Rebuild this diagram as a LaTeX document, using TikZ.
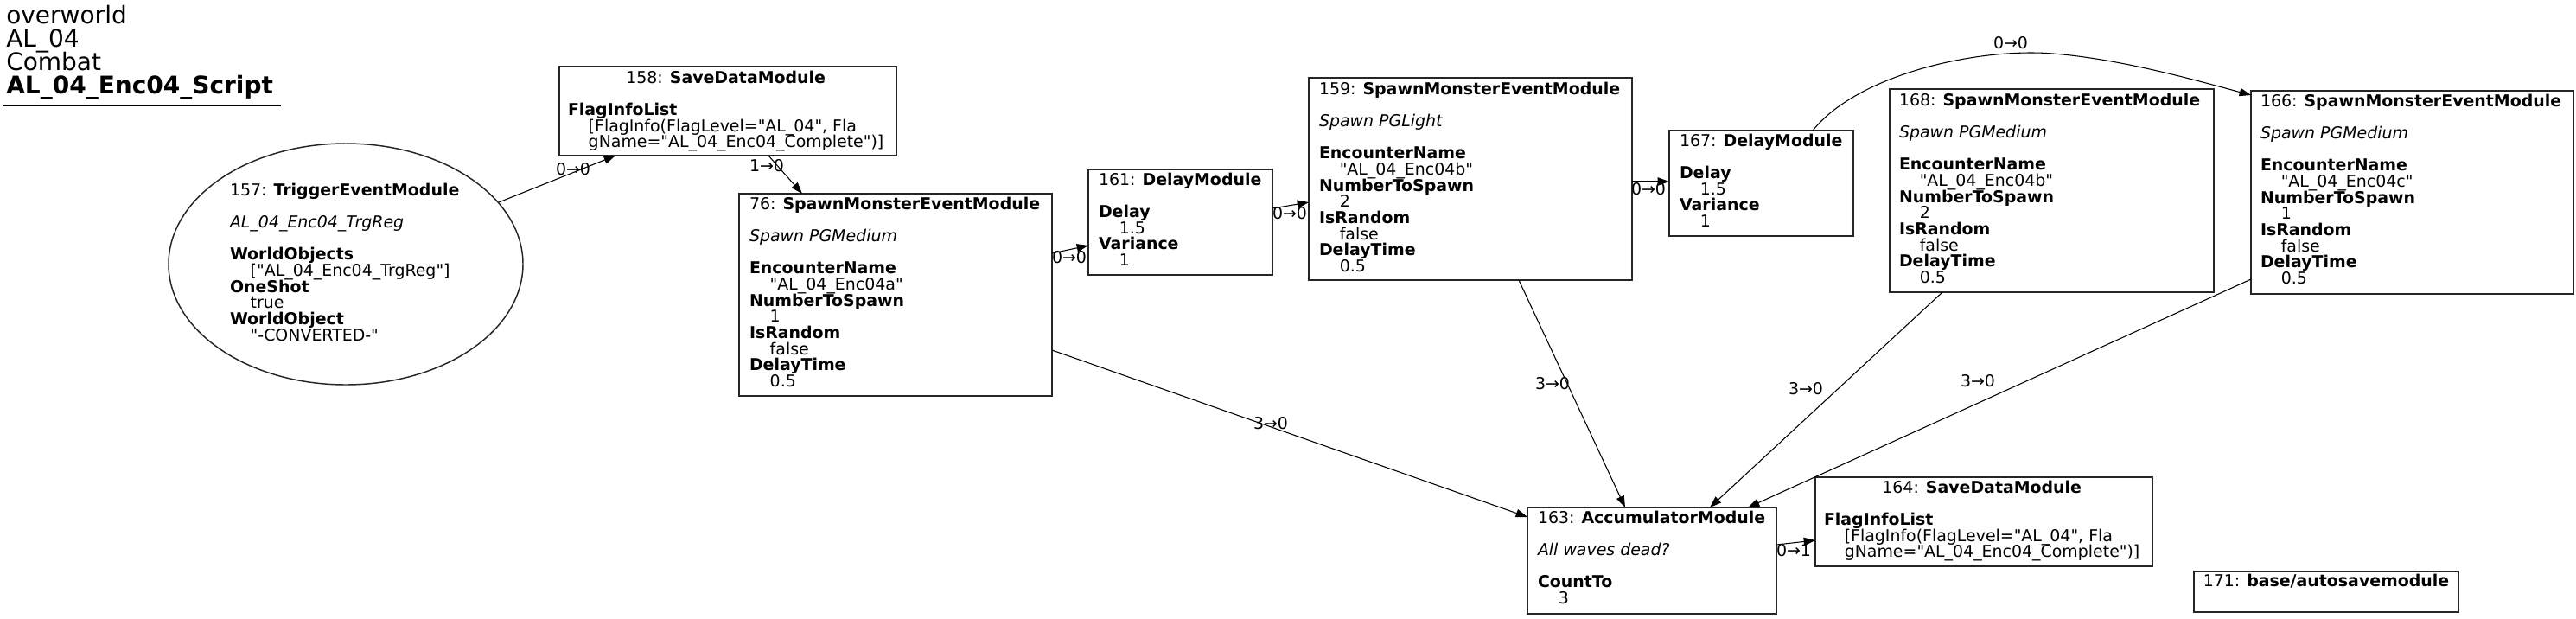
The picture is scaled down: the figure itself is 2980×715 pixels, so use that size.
\documentclass[tikz,border=0pt]{standalone}
\usepackage{fontspec}
\setmainfont{DejaVu Sans}[Ligatures=TeXOff]
\usetikzlibrary{arrows.meta,shapes.geometric,fit,calc}
\newcommand\ind{\hspace*{17.8pt}}
\newcommand\nlines[1]{\vtop{\baselineskip=14pt\lineskiplimit=-30pt\lineskip=0pt\halign{##\hfil\cr#1\crcr}}}
\newcommand\ctr[1]{\omit\hfil#1\hfil}
\tikzset{
  box/.style={draw=black!85, line width=1.1pt, inner sep=0pt, outer sep=0pt, rectangle},
  txt/.style={anchor=base west, inner sep=0pt, outer sep=0pt, font=\fontsize{14.2}{14}\selectfont},
  lbl/.style={inner sep=0pt, font=\fontsize{14.2}{14}\selectfont},
  conn/.style={line width=0.8pt, -{Triangle[length=10pt,width=7pt]}},
}
\begin{document}
\begin{tikzpicture}[x=0.75pt,y=-0.75pt]
\useasboundingbox (0,0) rectangle (2980,715);
\fill[white] (0,0) rectangle (2980,715);

% title
\node[anchor=base west, inner sep=0pt, font=\fontsize{21}{20.25}\selectfont] (title) at (7,27)
  {\vtop{\baselineskip=20.25pt\lineskiplimit=-30pt\halign{#\hfil\cr overworld\cr AL\_04\cr Combat\cr \textbf{AL\_04\_Enc04\_Script}\crcr}}};
\draw[line width=1pt] (3,122) -- (325,122);

% 157 ellipse
\node[draw=black!85, ellipse, line width=1.1pt, inner sep=0pt, minimum width=307.5pt, minimum height=209.25pt] (n157) at (400,305.5) {};
\node[txt] (t157) at (266,226) {\nlines{157: \textbf{TriggerEventModule}\cr\cr \textit{AL\_04\_Enc04\_TrgReg}\cr\cr \textbf{WorldObjects}\cr \ind["AL\_04\_Enc04\_TrgReg"]\cr \textbf{OneShot}\cr \ind true\cr \textbf{WorldObject}\cr \ind"-CONVERTED-"}};

% 158
\node[box, fit={(647,77) (1037,180)}] (n158) {};
\node[txt] (t158) at (657,96) {\nlines{\ctr{158: \textbf{SaveDataModule}}\cr\cr \textbf{FlagInfoList}\cr \ind[FlagInfo(FlagLevel="AL\_04", Fla\cr \ind gName="AL\_04\_Enc04\_Complete")]}};

% 76
\node[box, fit={(855,224) (1217,458)}] (n76) {};
\node[txt] (t76) at (867,242) {\nlines{76: \textbf{SpawnMonsterEventModule}\cr\cr \textit{Spawn PGMedium}\cr\cr \textbf{EncounterName}\cr \ind"AL\_04\_Enc04a"\cr \textbf{NumberToSpawn}\cr \ind 1\cr \textbf{IsRandom}\cr \ind false\cr \textbf{DelayTime}\cr \ind 0.5}};

% 161
\node[box, fit={(1259,196) (1472,318)}] (n161) {};
\node[txt] (t161) at (1271,214) {\nlines{161: \textbf{DelayModule}\cr\cr \textbf{Delay}\cr \ind 1.5\cr \textbf{Variance}\cr \ind 1}};

% 159
\node[box, fit={(1514,90) (1888,324)}] (n159) {};
\node[txt] (t159) at (1526,109) {\nlines{159: \textbf{SpawnMonsterEventModule}\cr\cr \textit{Spawn PGLight}\cr\cr \textbf{EncounterName}\cr \ind"AL\_04\_Enc04b"\cr \textbf{NumberToSpawn}\cr \ind 2\cr \textbf{IsRandom}\cr \ind false\cr \textbf{DelayTime}\cr \ind 0.5}};

% 167
\node[box, fit={(1931,151) (2144,273)}] (n167) {};
\node[txt] (t167) at (1943,169) {\nlines{167: \textbf{DelayModule}\cr\cr \textbf{Delay}\cr \ind 1.5\cr \textbf{Variance}\cr \ind 1}};

% 168
\node[box, fit={(2186,103) (2561,338)}] (n168) {};
\node[txt] (t168) at (2197,122) {\nlines{168: \textbf{SpawnMonsterEventModule}\cr\cr \textit{Spawn PGMedium}\cr\cr \textbf{EncounterName}\cr \ind"AL\_04\_Enc04b"\cr \textbf{NumberToSpawn}\cr \ind 2\cr \textbf{IsRandom}\cr \ind false\cr \textbf{DelayTime}\cr \ind 0.5}};

% 166
\node[box, fit={(2604,105) (2977,340)}] (n166) {};
\node[txt] (t166) at (2615,123) {\nlines{166: \textbf{SpawnMonsterEventModule}\cr\cr \textit{Spawn PGMedium}\cr\cr \textbf{EncounterName}\cr \ind"AL\_04\_Enc04c"\cr \textbf{NumberToSpawn}\cr \ind 1\cr \textbf{IsRandom}\cr \ind false\cr \textbf{DelayTime}\cr \ind 0.5}};

% 163
\node[box, fit={(1767,587) (2055,710)}] (n163) {};
\node[txt] (t163) at (1779,605) {\nlines{163: \textbf{AccumulatorModule}\cr\cr \textit{All waves dead?}\cr\cr \textbf{CountTo}\cr \ind 3}};

% 164
\node[box, fit={(2100,552) (2490,655)}] (n164) {};
\node[txt] (t164) at (2110,570) {\nlines{\ctr{164: \textbf{SaveDataModule}}\cr\cr \textbf{FlagInfoList}\cr \ind[FlagInfo(FlagLevel="AL\_04", Fla\cr \ind gName="AL\_04\_Enc04\_Complete")]}};

% 171
\node[box, fit={(2538,661) (2844,708)}] (n171) {};
\node[txt, anchor=base] (t171) at (2691,678) {171: \textbf{base/autosavemodule}};

% connectors
\draw[conn] (n157.22) -- ($(n158.south west)+(65,0)$);
\node[lbl] (l1) at (663,196) {0→0};
\draw[conn] ($(n158.south west)+(242,0)$) -- ($(n76.north west)+(73,0)$);
\node[lbl] (l2) at (887,192) {1→0};
\draw[conn] ($(n76.north east)+(0,69)$) -- ($(n161.north west)+(0,88)$);
\node[lbl] (l3) at (1237,298) {0→0};
\draw[conn] ($(n161.north east)+(0,45)$) -- ($(n159.north west)+(0,144)$);
\node[lbl] (l4) at (1492,247) {0→0};
\draw[conn] ($(n159.north east)+(0,120)$) -- ($(n167.north west)+(0,59)$);
\node[lbl] (l5) at (1907,219) {0→0};
\draw[conn] ($(n167.north west)+(166,0)$) .. controls (2150,85) and (2290,55) .. (2375,62)
   .. controls (2450,68) and (2530,90) .. ($(n166.north west)+(0,5)$);
\node[lbl] (l6) at (2326,50) {0→0};
\draw[conn] ($(n76.north east)+(0,181)$) -- ($(n163.north west)+(0,11)$);
\node[lbl] (l7) at (1470,490) {3→0};
\draw[conn] ($(n159.south west)+(243,0)$) -- ($(n163.north west)+(113,0)$);
\node[lbl] (l8) at (1796,444) {3→0};
\draw[conn] ($(n168.south west)+(61,0)$) -- ($(n163.north west)+(211,0)$);
\node[lbl] (l9) at (2089,450) {3→0};
\draw[conn] ($(n166.north west)+(0,218)$) -- ($(n163.north west)+(255,0)$);
\node[lbl] (l10) at (2288,441) {3→0};
\draw[conn] ($(n163.north east)+(0,43)$) -- ($(n164.north west)+(0,73)$);
\node[lbl] (l11) at (2075,637) {0→1};
\end{tikzpicture}
\end{document}
